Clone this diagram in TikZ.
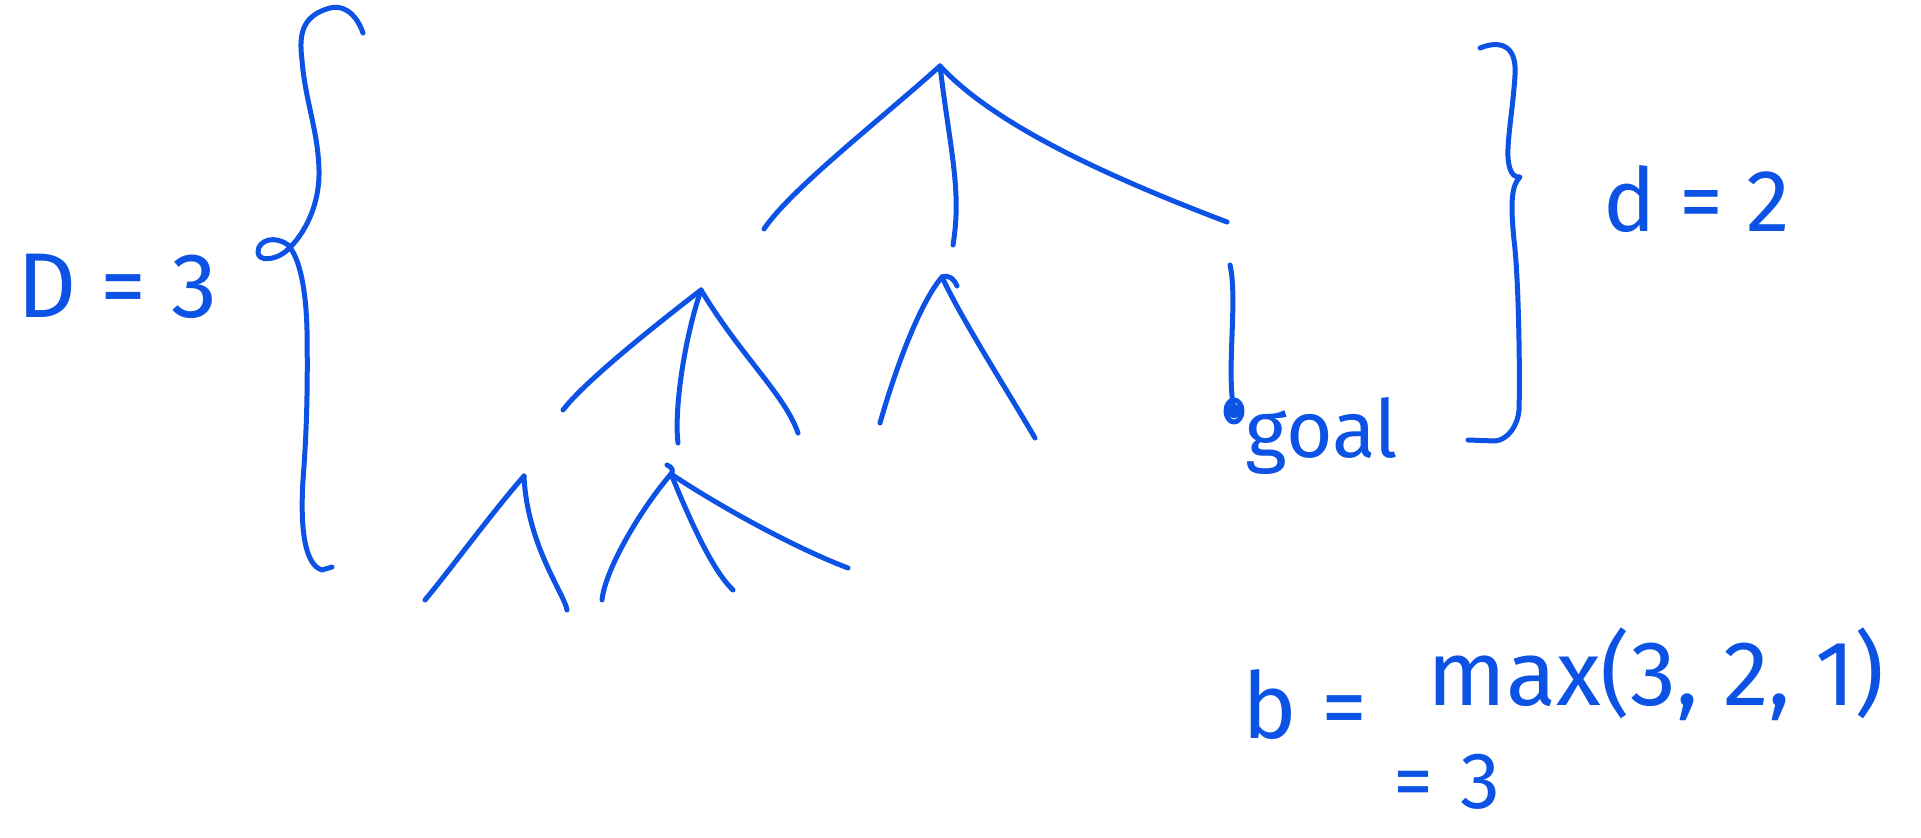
\documentclass[tikz,border=0pt]{standalone}
\usepackage{fontspec}
\setmainfont{Fira Sans}
\definecolor{ink}{RGB}{12,82,228}
\begin{document}
\begin{tikzpicture}[x=0.5pt,y=-0.5pt,
  stroke/.style={draw=ink, line width=2.5pt, line cap=round, line join=round},
  lbl/.style={text=ink, inner sep=0pt, anchor=base}]
\useasboundingbox (0,0) rectangle (1921,838);

% ---------- tree points ----------
\coordinate (R) at (940,66);
\coordinate (l1a) at (764,229);
\coordinate (l1b) at (953,245);
\coordinate (l1c) at (1227,222);
\coordinate (A) at (701,290);
\coordinate (A1) at (563,410);
\coordinate (A2) at (678,443);
\coordinate (A3) at (798,433);
\coordinate (B) at (942,277);
\coordinate (Bh) at (957,286);
\coordinate (B1) at (880,423);
\coordinate (B2) at (1035,438);
\coordinate (C) at (1230,265);
\coordinate (Cg) at (1234,411);
\coordinate (G1) at (524,476);
\coordinate (G11) at (425,600);
\coordinate (G12) at (567,610);
\coordinate (G2) at (671,474);
\coordinate (G2t) at (667,465);
\coordinate (G21) at (602,600);
\coordinate (G22) at (733,590);
\coordinate (G23) at (848,568);

% ---------- root edges ----------
\draw[stroke] (R) .. controls (880,120) and (790,190) .. (l1a);
\draw[stroke] (R) .. controls (950,150) and (962,190) .. (l1b);
\draw[stroke] (R) .. controls (990,120) and (1090,170) .. (l1c);

% ---------- level 2 ----------
\draw[stroke] (A) .. controls (640,337) and (582,385) .. (A1);
\draw[stroke] (A) .. controls (684,340) and (674,410) .. (A2);
\draw[stroke] (A) .. controls (740,355) and (785,395) .. (A3);

\draw[stroke] (B) .. controls (922,300) and (898,360) .. (B1);
\draw[stroke] (B) .. controls (962,320) and (1010,395) .. (B2);
\draw[stroke] (B) .. controls (949,274) and (955,280) .. (Bh);

\draw[stroke] (C) .. controls (1238,300) and (1226,370) .. (Cg);
\draw[stroke] (Cg) ellipse [x radius=8, y radius=11];
\draw[stroke] (Cg) ellipse [x radius=3.5, y radius=5];

% ---------- level 3 ----------
\draw[stroke] (G1) .. controls (490,515) and (450,570) .. (G11);
\draw[stroke] (G1) .. controls (527,545) and (565,595) .. (G12);

\draw[stroke] (G2t) .. controls (672,467) and (674,471) .. (G2);
\draw[stroke] (G2) .. controls (640,510) and (605,570) .. (G21);
\draw[stroke] (G2) .. controls (690,520) and (712,570) .. (G22);
\draw[stroke] (G2) .. controls (725,510) and (800,550) .. (G23);

% ---------- braces ----------
\draw[stroke] (363,33) .. controls (355,10) and (340,5) .. (330,8)
  .. controls (305,15) and (298,30) .. (302,60)
  .. controls (305,100) and (318,130) .. (319,170)
  .. controls (320,210) and (300,240) .. (285,252)
  .. controls (275,260) and (258,262) .. (258,252)
  .. controls (258,240) and (275,235) .. (288,245)
  .. controls (300,258) and (306,290) .. (307,330)
  .. controls (308,400) and (306,440) .. (303,480)
  .. controls (300,530) and (305,565) .. (322,570) -- (332,567);

\draw[stroke] (1480,48) .. controls (1500,40) and (1517,45) .. (1515,75)
  .. controls (1513,110) and (1505,150) .. (1509,165)
  .. controls (1511,175) and (1516,178) .. (1520,177)
  .. controls (1512,185) and (1510,200) .. (1514,240)
  .. controls (1519,280) and (1520,380) .. (1519,410)
  .. controls (1518,425) and (1508,440) .. (1495,441) -- (1468,440);

% ---------- labels ----------
\node[lbl, font=\fontsize{46pt}{50pt}\selectfont] (Dlab) at (117,318) {D = 3};
\node[lbl, font=\fontsize{44pt}{48pt}\selectfont] (dlab) at (1697,232) {d = 2};
\node[lbl, font=\fontsize{40pt}{44pt}\selectfont] (goal) at (1322,458) {goal};
\node[lbl, font=\fontsize{46pt}{50pt}\selectfont] (beq) at (1305,738) {b =};
\node[lbl, font=\fontsize{46pt}{50pt}\selectfont] (maxexpr) at (1656,705) {max(3, 2, 1)};
\node[lbl, font=\fontsize{40pt}{44pt}\selectfont] (eq3) at (1447,808) {=\,\,3};
\end{tikzpicture}
\end{document}
